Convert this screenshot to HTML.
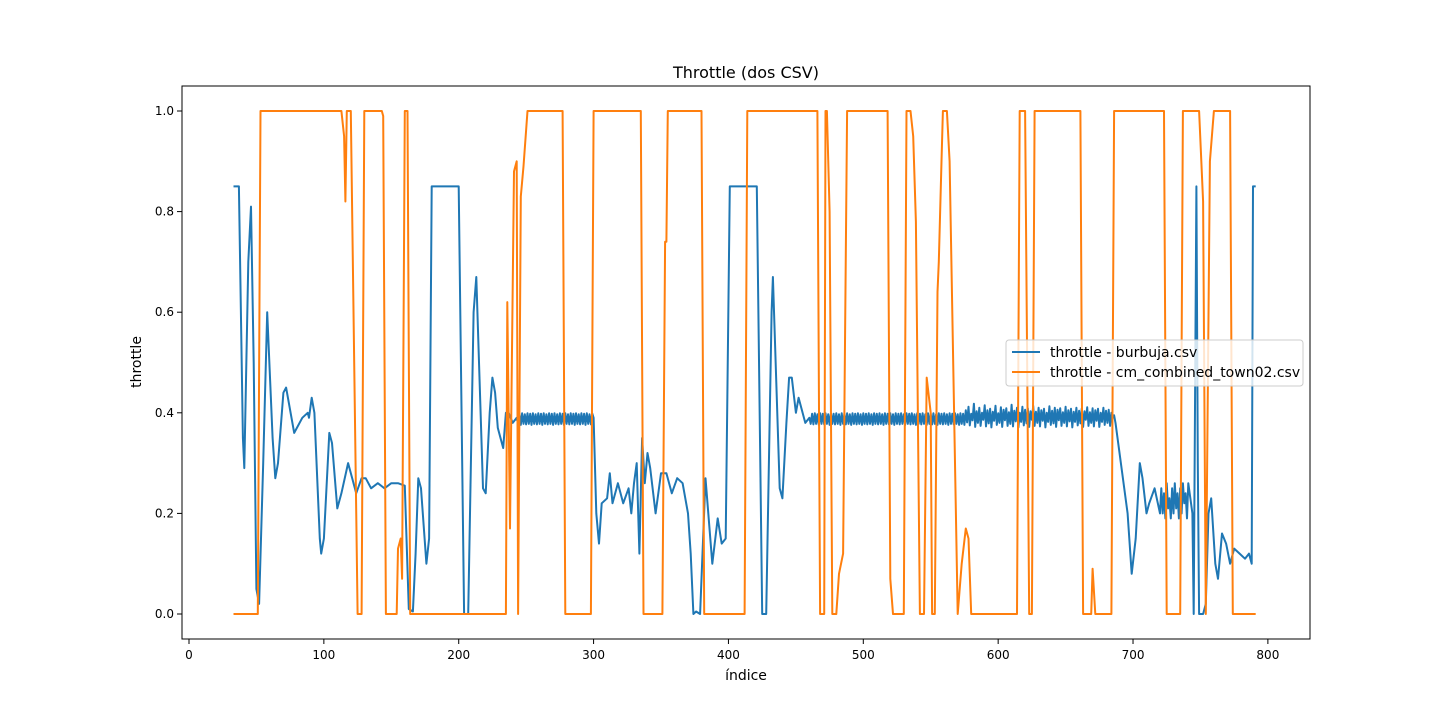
<!DOCTYPE html>
<html><head><meta charset="utf-8"><style>
body{margin:0;background:#fff;font-family:"Liberation Sans","DejaVu Sans",sans-serif;}
svg text{font-family:"DejaVu Sans","Liberation Sans",sans-serif;}
</style></head><body>
<svg id="chart" width="1456" height="719" xmlns="http://www.w3.org/2000/svg">
<rect width="1456" height="719" fill="#fff"/>
<text x="746" y="78" font-size="16" text-anchor="middle">Throttle (dos CSV)</text>
<g id="plot"></g>
<text x="746" y="680" font-size="14" text-anchor="middle">índice</text>
<text transform="translate(141,362) rotate(-90)" font-size="14" text-anchor="middle">throttle</text>
<g>
<rect x="1006" y="340" width="297" height="46" fill="#fff" fill-opacity="0.8" stroke="#ccc" rx="3"/>
<line x1="1012" y1="352" x2="1040" y2="352" stroke="#1f77b4" stroke-width="2"/>
<text x="1050" y="357" font-size="14">throttle - burbuja.csv</text>
<line x1="1012" y1="372" x2="1040" y2="372" stroke="#ff7f0e" stroke-width="2"/>
<text x="1050" y="377" font-size="14">throttle - cm_combined_town02.csv</text>
</g>
</svg>
<script>
const xTicks=[0,100,200,300,400,500,600,700,800];
const yTicks=[0.0,0.2,0.4,0.6,0.8,1.0];
const yTickLabels=["0.0","0.2","0.4","0.6","0.8","1.0"];
const orangeX=[33,51,53,113,115,116,117,120,125,128,130,143,144,146,154,155,157,158,160,162,164,235,236,238,241,243,244,246,248,251,277,279,298,300,335,337,351,353,354,355,380,382,412,414,466,468,471,472,473,475,477,480,482,485,488,518,520,522,530,532,535,537,539,542,545,547,550,551,553,555,556,558,559,562,564,570,573,576,578,580,614,616,620,623,625,627,661,663,669,670,672,684,686,723,725,735,737,749,752,754,757,760,772,774,791];
const orangeY=[0,0,1,1,0.95,0.82,1,1,0,0,1,1,0.99,0,0,0.13,0.15,0.07,1,1,0,0,0.62,0.17,0.88,0.9,0,0.83,0.89,1,1,0,0,1,1,0,0,0.74,0.74,1,1,0,0,1,1,0,0,1,1,0.8,0,0,0.08,0.12,1,1,0.07,0,0,1,1,0.95,0.78,0,0,0.47,0.4,0,0,0.64,0.7,0.9,1,1,0.9,0,0.1,0.17,0.15,0,0,1,1,0,0,1,1,0,0,0.09,0,0,1,1,0,0,1,1,0.82,0,0.9,1,1,0,0];
const blueX=[33,37,40,41,44,46,48,50,52,55,58,62,64,66,70,72,78,84,88,89,91,93,97,98,100,104,106,110,113,118,121,124,128,131,135,140,145,150,155,160,163,166,168,170,172,176,178,180,200,204,207,211,213,218,220,223,225,227,229,231,233,235,237,240,243];
const blueY=[0.85,0.85,0.35,0.29,0.7,0.81,0.5,0.05,0.02,0.3,0.6,0.35,0.27,0.3,0.44,0.45,0.36,0.39,0.4,0.39,0.43,0.4,0.15,0.12,0.15,0.36,0.34,0.21,0.24,0.3,0.27,0.24,0.27,0.27,0.25,0.26,0.25,0.26,0.26,0.255,0.01,0.005,0.12,0.27,0.25,0.1,0.15,0.85,0.85,0,0,0.6,0.67,0.25,0.24,0.4,0.47,0.44,0.37,0.35,0.33,0.4,0.4,0.38,0.39];
const blueOsc1Start=244;
const blueOsc1=[0.378,0.398,0.376,0.399,0.378,0.397,0.377,0.399,0.378,0.398,0.376,0.399,0.378,0.397,0.377,0.399,0.378,0.398,0.376,0.399,0.378,0.397,0.377,0.399,0.378,0.398,0.376,0.399,0.378,0.397,0.377,0.399,0.378,0.398,0.376,0.399,0.378,0.397,0.377,0.399,0.378,0.398,0.376,0.399,0.378,0.397,0.377,0.399,0.378,0.398,0.376,0.399,0.378,0.397,0.377,0.399];
const blueX2=[300,302,304,306,310,312,314,318,322,326,328,330,332,334,336,338,340,342,346,350,354,358,362,366,370,372,374,376,379,383,388,392,395,398,401,421,425,428,432,433,438,440,443,445,447,450,452,457,460];
const blueY2=[0.39,0.2,0.14,0.22,0.23,0.28,0.22,0.26,0.22,0.25,0.2,0.26,0.3,0.12,0.35,0.26,0.32,0.29,0.2,0.28,0.28,0.24,0.27,0.26,0.2,0.12,0,0.005,0,0.27,0.1,0.19,0.14,0.15,0.85,0.85,0,0,0.6,0.67,0.25,0.23,0.38,0.47,0.47,0.4,0.43,0.38,0.39];
const blueOsc2Start=461;
const blueOsc2=[0.378,0.398,0.377,0.399,0.378,0.397,0.376,0.399,0.378,0.398,0.377,0.399,0.378,0.397,0.376,0.399,0.378,0.398,0.377,0.399,0.378,0.397,0.376,0.399,0.378,0.398,0.377,0.399,0.378,0.397,0.376,0.399,0.378,0.398,0.377,0.399,0.378,0.397,0.376,0.399,0.378,0.398,0.377,0.399,0.378,0.397,0.376,0.399,0.378,0.398,0.377,0.399,0.378,0.397,0.376,0.399,0.378,0.398,0.377,0.399,0.378,0.397,0.376,0.399,0.378,0.398,0.377,0.399,0.378,0.397,0.376,0.399,0.378,0.398,0.377,0.399,0.378,0.397,0.376,0.399,0.378,0.398,0.377,0.399,0.378,0.397,0.376,0.399,0.378,0.398,0.377,0.399,0.378,0.397,0.376,0.399,0.378,0.398,0.377,0.399,0.378,0.397,0.376,0.399,0.378,0.398,0.377,0.399,0.378,0.397,0.376,0.399,0.378,0.398,
0.376,0.405,0.381,0.412,0.375,0.398,0.385,0.418,0.372,0.403,0.38,0.41,0.374,0.4,0.386,0.415,0.373,0.405,0.379,0.408,0.371,0.402,0.384,0.414,0.376,0.399,0.38,0.411,0.372,0.406,0.385,0.409,0.374,0.401,0.378,0.416,0.373,0.404,0.383,0.41,0.371,0.4,0.382,0.412,0.375,0.406,0.379,0.409,0.372,0.403,0.386,0.414,0.374,0.402,0.38,0.41,0.373,0.405,0.384,0.408,0.371,0.4,0.382,0.413,0.376,0.404,0.379,0.41,0.372,0.406,0.385,0.409,0.374,0.401,0.38,0.412,0.373,0.405,0.383,0.408,0.371,0.402,0.382,0.41,0.375,0.404,0.379,0.409,0.372,0.403,0.386,0.411,0.374,0.401,0.38,0.409,0.373,0.405,0.384,0.408,0.372,0.4,0.382,0.41,0.376,0.404,0.38,0.406,0.374,0.4,0.39,0.395,0.38];
const blueX3=[696,699,702,705,707,710,712,716,720];
const blueY3=[0.2,0.08,0.15,0.3,0.27,0.2,0.22,0.25,0.2];
const blueOsc3Start=721;
const blueOsc3=[0.25,0.2,0.24,0.19,0.26,0.21,0.23,0.19,0.25,0.2,0.26,0.21,0.24,0.19,0.25,0.2,0.26,0.22,0.24,0.19,0.26];
const blueX4=[744,745,747,748,749,752,754,756,758,761,763,766,769,772,775,779,783,786,788,789,791];
const blueY4=[0.2,0,0.85,0.3,0,0,0.02,0.2,0.23,0.1,0.07,0.16,0.14,0.1,0.13,0.12,0.11,0.12,0.1,0.85,0.85];

const L=182,R=1310,T=86,B=639;
const xs=v=>189+v*1.3486;
const ys=v=>614-v*503;
const ns="http://www.w3.org/2000/svg";
const g=document.getElementById('plot');
function mk(t,a){const e=document.createElementNS(ns,t);for(const k in a)e.setAttribute(k,a[k]);g.appendChild(e);return e;}
xTicks.forEach(t=>{
  const l=mk('line',{x1:xs(t),x2:xs(t),y1:B,y2:B+5,stroke:'#000'});
  
  
  const tx=mk('text',{x:xs(t),y:B+20,'font-size':12,'text-anchor':'middle'});tx.textContent=t;
  
  
});
yTicks.forEach((t,i)=>{
  const l=mk('line',{x1:L-5,x2:L,y1:ys(t),y2:ys(t),stroke:'#000'});
  
  
  const tx=mk('text',{x:L-8,y:ys(t)+4,'font-size':12,'text-anchor':'end'});tx.textContent=yTickLabels[i];
  
  
});
function pts(X,Y){return X.map((x,i)=>[x,Y[i]]);}
function osc(s,A){return A.map((v,i)=>[s+i,v]);}
const blue=[].concat(pts(blueX,blueY),osc(blueOsc1Start,blueOsc1),pts(blueX2,blueY2),osc(blueOsc2Start,blueOsc2),pts(blueX3,blueY3),osc(blueOsc3Start,blueOsc3),pts(blueX4,blueY4)).sort((a,b)=>a[0]-b[0]);
const orange=pts(orangeX,orangeY);
function line(P,c,n){const p=mk('path',{d:P.map((q,i)=>(i?'L':'M')+xs(q[0]).toFixed(1)+','+ys(q[1]).toFixed(1)).join(''),fill:'none',stroke:c,'stroke-width':2,'stroke-linejoin':'round'});
  
  }
line(blue,'#1f77b4','series-burbuja');
line(orange,'#ff7f0e','series-cm-combined');
const fr=mk('rect',{x:L,y:T,width:R-L,height:B-T,fill:'none',stroke:'#000','stroke-width':1});


</script>
</body></html>
